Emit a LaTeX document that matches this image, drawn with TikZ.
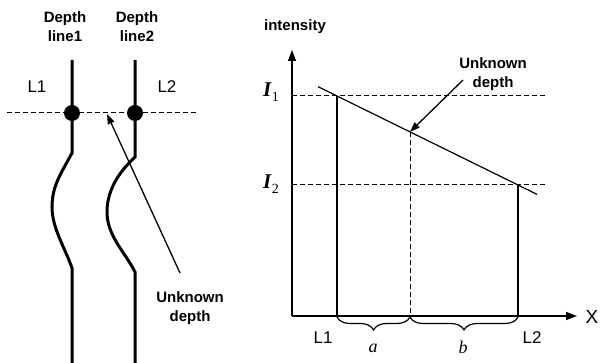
\documentclass[tikz,border=0pt]{standalone}
\usepackage{fontspec}
\setmainfont{Liberation Sans}
\newfontfamily\serifx{Liberation Serif}
\usetikzlibrary{arrows.meta,decorations.pathreplacing,calc}
\begin{document}
\begin{tikzpicture}[x=1pt,y=-1pt,
  lbl/.style={font=\bfseries\fontsize{15}{19}\selectfont,align=center,inner sep=0pt},
  biglbl/.style={font=\fontsize{17}{19}\selectfont,inner sep=0pt},
  mathlbl/.style={font=\serifx\itshape\fontsize{18}{19}\selectfont,inner sep=0pt},
  ilbl/.style={inner sep=0pt,anchor=base west,font=\serifx\fontsize{21}{21}\selectfont\bfseries\itshape},
  depthline/.style={line width=3pt},
  dot/.style={circle,fill=black,minimum size=16pt,inner sep=0pt},
  dashline/.style={line width=1pt,dash pattern=on 5pt off 3pt},
  graphline/.style={line width=1.2pt},
  ptr/.style={line width=1.3pt,-{Triangle[length=10pt,width=7pt]}},
  axarrow/.style={line width=1.3pt,-{Triangle[length=11pt,width=8pt]}},
  brc/.style={decorate,decoration={brace,mirror,amplitude=13pt},line width=1.2pt}
]
\useasboundingbox (0,0) rectangle (600,363);

% ---------- left panel ----------
\node[lbl] (d1) at (65,27) {Depth\\line1};
\node[lbl] (d2) at (137,27) {Depth\\line2};
\node[biglbl] (l1a) at (37,87) {L1};
\node[biglbl] (l2a) at (167,87) {L2};

\coordinate (hl) at (7,113);
\coordinate (hr) at (198,113);
\draw[dashline] (hl) -- (hr);

\coordinate (t1) at (72,60);
\coordinate (b1) at (72,363);
\draw[depthline] (t1) -- (72,153) .. controls (62,172) and (52,185) .. (52,207)
  .. controls (52,228) and (65,248) .. (72,268) -- (b1);
\coordinate (t2) at (135,60);
\coordinate (b2) at (135,363);
\draw[depthline] (t2) -- (135,157) .. controls (119,172) and (107,190) .. (107,212)
  .. controls (107,236) and (125,252) .. (135,272) -- (b2);

\node[dot] (p1) at (72,113) {};
\node[dot] (p2) at (135,113) {};

\node[lbl] (u1) at (190,308) {Unknown\\depth};
\coordinate (ua) at (180,273);
\coordinate (ub) at (107,114);
\draw[ptr] (ua) -- (ub);

% ---------- right panel ----------
\coordinate (O) at (292,316);
\coordinate (Ytop) at (292,50);
\coordinate (Xend) at (577,316);
\draw[axarrow] (O) -- (Ytop);
\draw[axarrow] (O) -- (Xend);
\node[font=\fontsize{19}{19}\selectfont,inner sep=0pt] (xl) at (592,317) {X};
\node[lbl] (int) at (295,27) {intensity};

\node[ilbl] (i1) at (263,97)
  {I\kern0.5pt\raisebox{-5pt}{\mdseries\upshape\fontsize{14}{14}\selectfont 1}};
\node[ilbl] (i2) at (263,189)
  {I\kern0.5pt\raisebox{-5pt}{\mdseries\upshape\fontsize{14}{14}\selectfont 2}};

\coordinate (a1) at (292,96);
\coordinate (e1) at (547,96);
\coordinate (a2) at (292,185);
\coordinate (e2) at (547,185);
\draw[dashline] (a1) -- (e1);
\draw[dashline] (a2) -- (e2);

\coordinate (P1) at (337,96);
\coordinate (P2) at (518,185);
\coordinate (Pu) at ($(P1)!0.4033!(P2)$);
\draw[graphline] ($(P1)!-0.105!(P2)$) -- ($(P1)!1.105!(P2)$);

\coordinate (F1) at (337,317);
\coordinate (F2) at (518,317);
\coordinate (Fu) at (Pu |- F1);
\draw[graphline] (P1) -- (F1);
\draw[graphline] (P2) -- (F2);
\draw[dashline] (Pu) -- (Fu);

\node[lbl] (u2) at (493,74) {Unknown\\depth};
\coordinate (uc) at (463,80);
\draw[ptr] (uc) -- (Pu);

\draw[brc] (F1) -- (Fu);
\draw[brc] (Fu) -- (F2);

\node[biglbl] (l1b) at (323,338) {L1};
\node[biglbl] (l2b) at (532,338) {L2};
\node[mathlbl] (la) at (373,348) {a};
\node[mathlbl] (lb) at (463,347) {b};
\end{tikzpicture}
\end{document}
